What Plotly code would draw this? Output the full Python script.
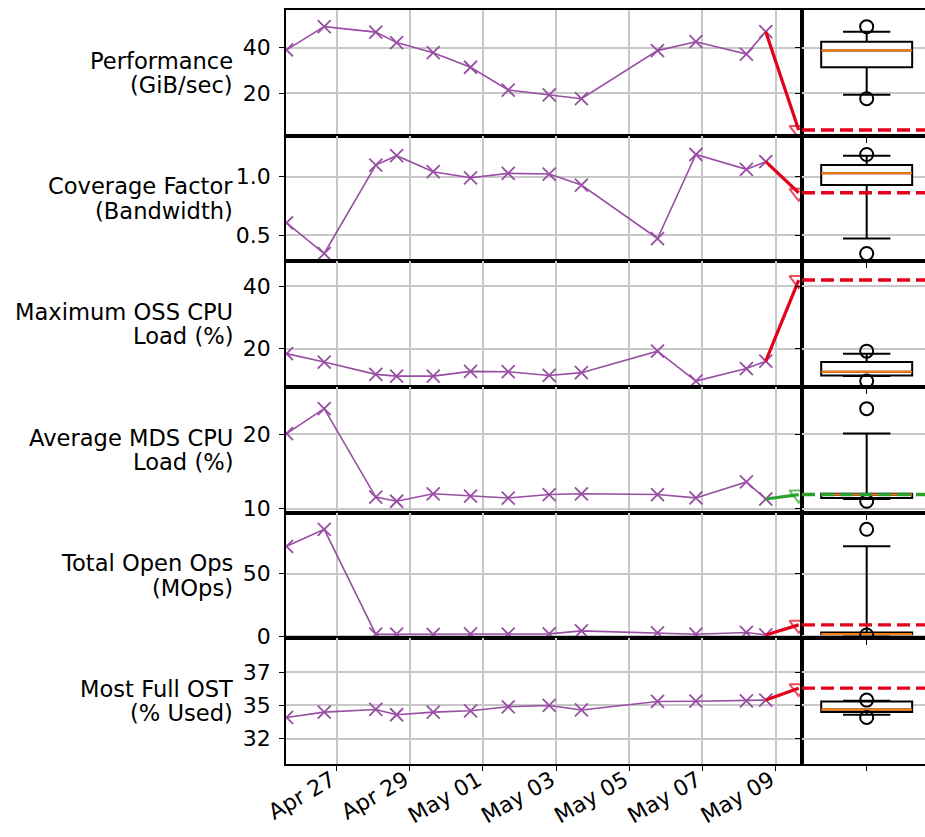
import numpy as np
import plotly.graph_objects as go

# Sample timestamps of the daily health checks, plus the latest run
dates = [
    "2018-04-25 15:07", "2018-04-26 15:50", "2018-04-28 01:40", "2018-04-28 15:20",
    "2018-04-29 15:20", "2018-04-30 15:50", "2018-05-01 16:34", "2018-05-02 19:26",
    "2018-05-03 16:34", "2018-05-05 18:29", "2018-05-06 19:41", "2018-05-08 04:48",
    "2018-05-08 17:31",
]
now_date = "2018-05-09 15:07"

# Historical series per metric
performance = [39.0, 49.2, 46.8, 42.2, 37.8, 31.4, 21.4, 19.3, 17.6, 38.7, 42.6, 37.2, 47.0]
coverage = [0.606, 0.344, 1.100, 1.180, 1.043, 0.991, 1.029, 1.023, 0.929, 0.472, 1.190, 1.063, 1.129]
oss_load = [18.4, 15.7, 11.75, 11.2, 11.2, 12.7, 12.6, 11.4, 12.3, 19.2, 9.6, 13.6, 16.0]
mds_load = [20.1, 23.46, 11.56, 11.0, 12.0, 11.7, 11.43, 11.9, 12.0, 11.9, 11.45, 13.6, 11.3]
open_ops = [71.8, 85.4, 1.5, 1.6, 1.3, 1.7, 1.6, 1.8, 4.2, 2.6, 1.5, 2.9, 0.9]
ost_full = [34.1, 34.5, 34.7, 34.3, 34.5, 34.6, 34.9, 35.0, 34.66, 35.3, 35.32, 35.35, 35.4]

# Latest values
now_values = [3.9, 0.863, 42.0, 11.9, 9.0, 36.3]
now_colors = ["#e3001b", "#e3001b", "#e3001b", "#2ca02c", "#e3001b", "#e3001b"]

row_labels = [
    ["Performance", "(GiB/sec)"],
    ["Coverage Factor", "(Bandwidth)"],
    ["Maximum OSS CPU", "Load (%)"],
    ["Average MDS CPU", "Load (%)"],
    ["Total Open Ops", "(MOps)"],
    ["Most Full OST", "(% Used)"],
]
y_ranges = [[1.4, 56.5], [0.277, 1.351], [7.7, 48.0], [9.46, 26.37], [-1.8, 98.7], [30.6, 40.04]]
y_tickvals = [[20, 40], [0.5, 1.0], [20, 40], [10, 20], [0, 50], [32.5, 35, 37.5]]
y_ticktext = [["20", "40"], ["0.5", "1.0"], ["20", "40"], ["10", "20"], ["0", "50"], ["32", "35", "37"]]

series = [performance, coverage, oss_load, mds_load, open_ops, ost_full]

PURPLE = "#984ea3"
GRID = "#c8c8c8"
FONT = "DejaVu Sans"
FS = 22
LABEL_FS = 22.6
W, H = 925, 837
LEFT, SPLIT = 286, 802
TOP, ROW_H = 10, 125.67
BOX_RANGE = [-0.711, 0.641]
X_RANGE = ["2018-04-25 14:46", "2018-05-09 17:17"]
SPINE = 1.8


def box_stats(values):
    v = np.asarray(values, dtype=float)
    q1, med, q3 = np.percentile(v, [25, 50, 75])
    lo_p, hi_p = np.percentile(v, [5, 95])
    lo = v[v >= lo_p].min()
    hi = v[v <= hi_p].max()
    fliers = v[(v < lo) | (v > hi)]
    return q1, med, q3, lo, hi, fliers


fig = go.Figure()
layout = dict(
    width=W, height=H, margin=dict(l=0, r=0, t=0, b=0, autoexpand=False),
    paper_bgcolor="white", plot_bgcolor="white", showlegend=False,
    font=dict(family=FONT, size=FS, color="black"),
    annotations=[], shapes=[],
)

for i, vals in enumerate(series):
    xl, yl = f"x{2 * i + 1}", f"y{2 * i + 1}"
    xr, yr = f"x{2 * i + 2}", f"y{2 * i + 2}"
    top_px = TOP + i * ROW_H
    bot_px = top_px + ROW_H
    ydom = [1 - bot_px / H, 1 - top_px / H]
    last = i == len(series) - 1

    # time series
    fig.add_trace(go.Scatter(
        x=dates, y=vals, xaxis=xl, yaxis=yl, mode="lines+markers",
        line=dict(color=PURPLE, width=1.6),
        marker=dict(symbol="x-thin", size=13, line=dict(color=PURPLE, width=1.8)),
    ))
    # latest step
    fig.add_trace(go.Scatter(
        x=[dates[-1], now_date], y=[vals[-1], now_values[i]], xaxis=xl, yaxis=yl,
        mode="lines+markers",
        line=dict(color=now_colors[i], width=3.2),
        marker=dict(symbol="triangle-down-open", size=[0, 16], color=now_colors[i],
                    line=dict(color=now_colors[i], width=2)),
    ))

    # distribution box
    q1, med, q3, lo, hi, fliers = box_stats(vals)
    fig.add_trace(go.Box(
        x=[0], q1=[q1], median=[med], q3=[q3], lowerfence=[lo], upperfence=[hi],
        width=1.0, whiskerwidth=0.52, fillcolor="white", boxpoints=False,
        line=dict(color="black", width=2), xaxis=xr, yaxis=yr,
    ))
    fig.add_trace(go.Scatter(
        x=[-0.5, 0.5], y=[med, med], xaxis=xr, yaxis=yr, mode="lines",
        line=dict(color="#ff7f0e", width=2),
    ))
    fig.add_trace(go.Scatter(
        x=[0] * len(fliers), y=list(fliers), xaxis=xr, yaxis=yr, mode="markers",
        marker=dict(symbol="circle-open", size=13, color="black", line=dict(color="black", width=2)),
    ))
    layout["shapes"].append(dict(
        type="line", xref=f"{xr} domain", yref=yr, x0=0, x1=1,
        y0=now_values[i], y1=now_values[i],
        line=dict(color=now_colors[i], width=3.4, dash="13px,6px"), layer="above",
    ))

    common = dict(automargin=False, zeroline=False, linecolor="black", linewidth=SPINE,
                  ticks="outside", ticklen=5, tickcolor="black", tickwidth=1.2)
    xaxis_left = dict(
        domain=[LEFT / W, SPLIT / W], anchor=yl, type="date", range=X_RANGE,
        tick0="2018-04-27", dtick=2 * 86400000, tickformat="%b %d",
        showgrid=True, gridcolor=GRID, gridwidth=1.5,
        showline=True, mirror=True,
        showticklabels=last, tickangle=-30, ticklabelstandoff=-12, ticklabelshift=-5,
        **common,
    )
    yaxis_left = dict(
        domain=ydom, anchor=xl, range=y_ranges[i],
        tickvals=y_tickvals[i], ticktext=y_ticktext[i],
        showgrid=True, gridcolor=GRID, gridwidth=1.5,
        showline=True, mirror=True, ticklabelstandoff=4, **common,
    )
    xaxis_right = dict(
        domain=[SPLIT / W, 1.0], anchor=yr, range=BOX_RANGE,
        tickvals=[0], showticklabels=False, showgrid=False,
        showline=True, mirror=True, **common,
    )
    yaxis_right = dict(
        domain=ydom, anchor=xr, range=y_ranges[i], tickvals=y_tickvals[i],
        showticklabels=False, showgrid=True, gridcolor=GRID, gridwidth=1.5,
        showline=True, **common,
    )
    n1, n2 = 2 * i + 1, 2 * i + 2
    layout[f"xaxis{n1 if n1 > 1 else ''}"] = xaxis_left
    layout[f"yaxis{n1 if n1 > 1 else ''}"] = yaxis_left
    layout[f"xaxis{n2}"] = xaxis_right
    layout[f"yaxis{n2}"] = yaxis_right

    # two-line row label, right aligned beside the axis
    center = top_px + ROW_H / 2
    for j, line in enumerate(row_labels[i]):
        yc = center + (-12.3 if j == 0 else 12.3)
        layout["annotations"].append(dict(
            text=line, xref="paper", yref="paper",
            x=234 / W, y=1 - yc / H,
            xanchor="right", yanchor="middle", align="right", showarrow=False,
            borderpad=0, font=dict(family=FONT, size=LABEL_FS, color="black"),
        ))

fig.update_layout(**layout)
fig.write_html("out.html")
